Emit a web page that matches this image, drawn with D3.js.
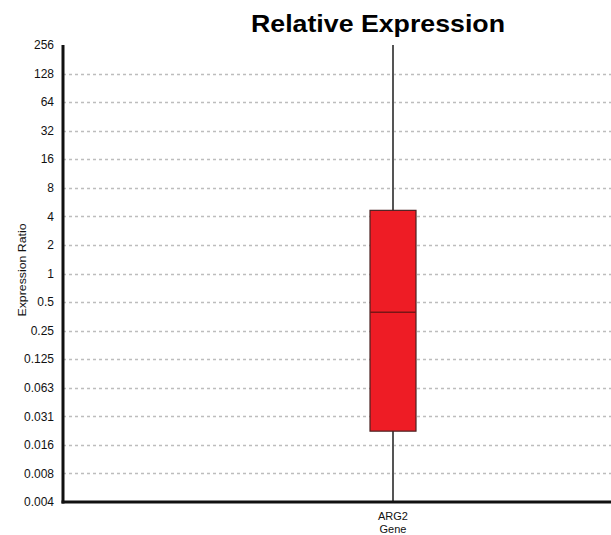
<!DOCTYPE html>
<html><head><meta charset="utf-8">
<script src="https://cdn.jsdelivr.net/npm/d3@7"></script>
<style>body{margin:0;background:#fff;} svg{display:block;}</style>
</head><body>
<svg id="c" width="611" height="535"></svg>
<script>
const tickValues = [0.00390625,0.0078125,0.015625,0.03125,0.0625,0.125,0.25,0.5,1,2,4,8,16,32,64,128,256];
const tickLabels = ["0.004","0.008","0.016","0.031","0.063","0.125","0.25","0.5","1","2","4","8","16","32","64","128","256"];
const genes = ["ARG2"];
const whiskerLow = [0.00390625];
const q1 = [0.0218];
const median = [0.39];
const q3 = [4.63];
const whiskerHigh = [256];

const svg = d3.select("#c");
const m = {left:63, right:611, top:45, bottom:502};
const y = d3.scaleLog().base(2).domain([0.00390625,256]).range([m.bottom,m.top]);
const x = d3.scaleBand().domain(genes).range([175,611]).padding(0);
const FONT = "Arial, 'Liberation Sans', sans-serif";

// grid
svg.append("g").selectAll("line").data(tickValues.slice(1,-1)).join("line")
  .attr("x1",m.left).attr("x2",m.right)
  .attr("y1",d=>Math.round(y(d))+0.5).attr("y2",d=>Math.round(y(d))+0.5)
  .attr("stroke","#bdbdbd").attr("stroke-width",1.5).attr("stroke-dasharray","3,3");

// y axis labels
svg.append("g").selectAll("text").data(tickValues).join("text")
  .attr("x",54).attr("y",d=>y(d)).attr("dy","0.35em")
  .attr("text-anchor","end").attr("font-family",FONT)
  .attr("font-size",12).attr("fill","#111")
  .text((d,i)=>tickLabels[i]);

// boxes
genes.forEach((g,i)=>{
  const cx = x(g)+x.bandwidth()/2;
  const bw = 46;
  svg.append("line").attr("x1",cx).attr("x2",cx).attr("y1",y(whiskerHigh[i])).attr("y2",y(whiskerLow[i]))
    .attr("stroke","#555").attr("stroke-width",2);
  svg.append("rect").attr("x",cx-bw/2).attr("width",bw)
    .attr("y",y(q3[i])).attr("height",y(q1[i])-y(q3[i]))
    .attr("fill","#ee1c25").attr("stroke","#4a2222").attr("stroke-width",1.2);
  svg.append("line").attr("x1",cx-bw/2).attr("x2",cx+bw/2).attr("y1",y(median[i])).attr("y2",y(median[i]))
    .attr("stroke","#7a1515").attr("stroke-width",1.5);
  svg.append("text").attr("x",cx).attr("y",520).attr("text-anchor","middle")
    .attr("font-family",FONT).attr("font-size",11).attr("fill","#111").text(g);
});
svg.append("text").attr("x",393).attr("y",533).attr("text-anchor","middle")
  .attr("font-family",FONT).attr("font-size",11).attr("fill","#111").text("Gene");

// axes lines
svg.append("line").attr("x1",m.left).attr("x2",m.left).attr("y1",m.top).attr("y2",m.bottom+1.5)
  .attr("stroke","#111").attr("stroke-width",3);
svg.append("line").attr("x1",m.left-1.5).attr("x2",m.right).attr("y1",m.bottom).attr("y2",m.bottom)
  .attr("stroke","#111").attr("stroke-width",3);

// title
svg.append("text").attr("x",378).attr("y",32).attr("text-anchor","middle")
  .attr("font-family",FONT).attr("font-weight","bold")
  .attr("font-size",24).attr("fill","#000")
  .attr("textLength",254).attr("lengthAdjust","spacingAndGlyphs")
  .text("Relative Expression");

// y label
svg.append("text").attr("transform","translate(26,270) rotate(-90)").attr("text-anchor","middle")
  .attr("font-family",FONT).attr("font-size",11).attr("fill","#111")
  .attr("textLength",93).attr("lengthAdjust","spacingAndGlyphs")
  .text("Expression Ratio");
</script>
</body></html>
